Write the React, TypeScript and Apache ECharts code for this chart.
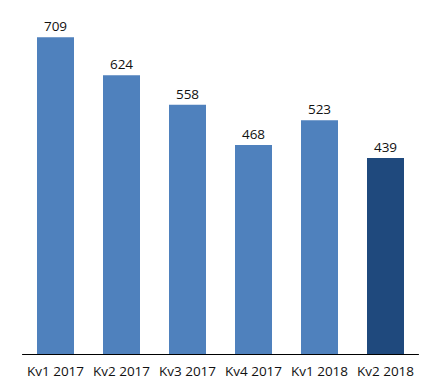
import React, { useEffect, useRef } from "react";
import * as echarts from "echarts";

const categories = ["Kv1 2017", "Kv2 2017", "Kv3 2017", "Kv4 2017", "Kv1 2018", "Kv2 2018"];
const values = [709, 624, 558, 468, 523, 439];
const barColors = ["#4f81bd", "#4f81bd", "#4f81bd", "#4f81bd", "#4f81bd", "#1f497d"];

export default function App() {
  const ref = useRef<HTMLDivElement>(null);
  useEffect(() => {
    document.body.style.margin = "0";
    const chart = echarts.init(ref.current!, null, { renderer: "svg" });
    chart.setOption({
      animation: false,
      textStyle: { fontFamily: "Open Sans" },
      grid: { left: 22.5, right: 22.5, top: 10, bottom: 33 },
      xAxis: {
        type: "category",
        data: categories,
        axisTick: { show: false },
        axisLine: { lineStyle: { color: "#000", width: 1 } },
        axisLabel: { color: "#111", fontSize: 13.5, margin: 10, interval: 0 },
      },
      yAxis: {
        type: "value",
        min: 0,
        max: 770,
        show: false,
        splitLine: { show: false },
      },
      series: [
        {
          type: "bar",
          data: values.map((v, i) => ({ value: v, itemStyle: { color: barColors[i] } })),
          barWidth: 37,
          label: { show: true, position: "top", distance: 4, color: "#111", fontSize: 13.5 },
        },
      ],
    });
    return () => chart.dispose();
  }, []);
  return <div ref={ref} style={{ width: 441, height: 387 }} />;
}
